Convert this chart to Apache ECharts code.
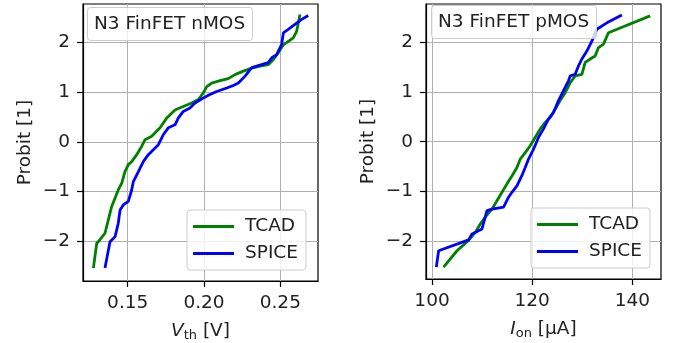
<!DOCTYPE html>
<html>
<head>
<meta charset="utf-8">
<script src="https://cdn.jsdelivr.net/npm/echarts@6/dist/echarts.min.js"></script>
<style>
  html, body { margin: 0; padding: 0; background: #fff; }
  #chart { width: 680px; height: 343px; }
</style>
</head>
<body>
<div id="chart"></div>
<script>
// nMOS: threshold voltage [V] vs probit
const nTcadVth = [0.1275, 0.1297, 0.1318, 0.1351, 0.1373, 0.1395, 0.1417, 0.1438, 0.1461, 0.1482, 0.1504, 0.1526, 0.1559, 0.1592, 0.1613, 0.1657, 0.1712, 0.1756, 0.1810, 0.1864, 0.1919, 0.1963, 0.1995, 0.2018, 0.2050, 0.2105, 0.2159, 0.2203, 0.2258, 0.2313, 0.2367, 0.2421, 0.2454, 0.2487, 0.2520, 0.2585, 0.2607, 0.2618, 0.2629]
const nTcadProbit = [-2.54, -2.04, -1.97, -1.84, -1.57, -1.30, -1.13, -0.97, -0.83, -0.60, -0.46, -0.40, -0.26, -0.09, 0.04, 0.11, 0.28, 0.48, 0.64, 0.71, 0.78, 0.85, 0.98, 1.11, 1.18, 1.23, 1.27, 1.35, 1.42, 1.48, 1.52, 1.55, 1.65, 1.79, 1.95, 2.09, 2.22, 2.39, 2.56]
const nSpiceVth = [0.1351, 0.1384, 0.1417, 0.1438, 0.1450, 0.1471, 0.1504, 0.1526, 0.1537, 0.1570, 0.1602, 0.1635, 0.1668, 0.1701, 0.1733, 0.1766, 0.1810, 0.1832, 0.1864, 0.1908, 0.1941, 0.1995, 0.2039, 0.2083, 0.2149, 0.2192, 0.2225, 0.2269, 0.2313, 0.2367, 0.2421, 0.2444, 0.2476, 0.2509, 0.2520, 0.2552, 0.2596, 0.2640, 0.2683]
const nSpiceProbit = [-2.54, -2.01, -1.91, -1.64, -1.37, -1.27, -1.20, -0.97, -0.80, -0.60, -0.40, -0.26, -0.16, -0.06, 0.14, 0.28, 0.34, 0.48, 0.61, 0.68, 0.78, 0.88, 0.95, 1.01, 1.08, 1.13, 1.18, 1.32, 1.49, 1.54, 1.59, 1.69, 1.75, 1.96, 2.19, 2.26, 2.36, 2.46, 2.54]

// pMOS: on-current [uA] vs probit
const pTcadIon = [102.31, 104.99, 107.30, 108.63, 109.63, 110.63, 111.96, 112.96, 113.96, 114.96, 115.95, 116.95, 117.61, 118.60, 119.60, 120.60, 121.60, 122.59, 123.59, 124.59, 125.58, 126.58, 127.58, 128.57, 129.91, 130.57, 131.57, 132.56, 133.22, 134.22, 135.21, 143.53]
const pTcadProbit = [-2.53, -2.20, -1.99, -1.83, -1.66, -1.52, -1.36, -1.19, -1.02, -0.85, -0.69, -0.52, -0.35, -0.22, -0.08, 0.09, 0.26, 0.39, 0.49, 0.66, 0.83, 0.99, 1.19, 1.33, 1.36, 1.60, 1.67, 1.73, 1.90, 1.97, 2.20, 2.54]
const pSpiceIon = [100.86, 101.32, 107.30, 107.98, 109.97, 110.97, 111.96, 114.28, 115.27, 115.95, 116.95, 117.95, 118.60, 119.26, 120.26, 121.26, 122.25, 123.25, 124.25, 125.24, 126.24, 127.24, 127.58, 128.57, 129.23, 129.91, 130.91, 131.90, 132.90, 134.90, 137.89]
const pSpiceProbit = [-2.53, -2.20, -1.98, -1.86, -1.76, -1.39, -1.36, -1.32, -1.12, -1.02, -0.89, -0.68, -0.52, -0.35, -0.15, 0.09, 0.26, 0.46, 0.59, 0.83, 1.03, 1.23, 1.33, 1.36, 1.53, 1.67, 1.83, 2.03, 2.27, 2.40, 2.56]

const nVthTicks = [0.15, 0.20, 0.25]
const pIonTicks = [100, 120, 140]
const probitTicks = [-2, -1, 0, 1, 2]

const FONT = 'DejaVu Sans'
const FS = 18.5
const GREEN = '#008000'
const BLUE = '#0000ff'

const pairs = (xs, ys) => xs.map((x, i) => [x, ys[i]])
const minus = (v) => (v < 0 ? '\u2212' + String(-v) : String(v))

function valueAxis(grid, min, max, ticks, fmt, margin, extra) {
  return Object.assign({
    type: 'value',
    gridIndex: grid,
    min, max,
    axisLine: { show: true, onZero: false, lineStyle: { color: '#000', width: 1.2 } },
    axisTick: { show: true, length: 6, customValues: ticks, lineStyle: { color: '#000', width: 1.2 } },
    axisLabel: { customValues: ticks, formatter: fmt, margin, color: '#222', fontFamily: FONT, fontSize: FS },
    splitLine: { show: true, lineStyle: { color: '#b0b0b0', width: 1 } },
  }, extra)
}

function line(name, color, xi, data) {
  return {
    name, type: 'line', xAxisIndex: xi, yAxisIndex: xi, data,
    showSymbol: false, symbol: 'none', animation: false,
    lineStyle: { color, width: 2.8 }, itemStyle: { color },
  }
}

function legendAt(left, top) {
  return {
    data: ['TCAD', 'SPICE'], orient: 'vertical', left, top,
    icon: 'rect', itemWidth: 41, itemHeight: 3, itemGap: 8,
    padding: [7, 8, 7, 6],
    backgroundColor: 'rgba(255,255,255,0.8)', borderColor: '#ccc', borderWidth: 1, borderRadius: 3,
    textStyle: { fontFamily: FONT, fontSize: FS, color: '#222', lineHeight: 19, padding: [0, 0, 0, 6] },
    selectedMode: false,
  }
}

function titleAt(text, left, top) {
  return {
    text, left, top, padding: [6, 8, 6, 7],
    backgroundColor: 'rgba(255,255,255,0.8)', borderColor: '#ccc', borderWidth: 1, borderRadius: 3,
    textStyle: { fontFamily: FONT, fontSize: FS, fontWeight: 'normal', color: '#222', lineHeight: 22 },
  }
}

const nameRich = {
  i: { fontFamily: FONT, fontSize: FS, fontStyle: 'italic', color: '#222' },
  s: { fontFamily: FONT, fontSize: 13, color: '#222', padding: [9, 0, 0, 0] },
  t: { fontFamily: FONT, fontSize: FS, color: '#222' },
}
const yName = { fontFamily: FONT, fontSize: FS, color: '#222' }

const chart = echarts.init(document.getElementById('chart'), null, { renderer: 'canvas' })
chart.setOption({
  animation: false,
  backgroundColor: '#fff',
  title: [titleAt('N3 FinFET nMOS', 87, 7), titleAt('N3 FinFET pMOS', 431, 5)],
  legend: [legendAt(187, 210), legendAt(531, 208)],
  grid: [
    { left: 83, width: 235, top: 4, height: 277, show: true, borderColor: '#000', borderWidth: 1.2, outerBoundsMode: 'none', containLabel: false },
    { left: 426, width: 235, top: 4, height: 275, show: true, borderColor: '#000', borderWidth: 1.2, outerBoundsMode: 'none', containLabel: false },
  ],
  xAxis: [
    valueAxis(0, 0.1207, 0.2747, nVthTicks, (v) => v.toFixed(2), 13, {
      name: '{i|V}{s|th}{t| [V]}', nameLocation: 'middle', nameGap: 39,
      nameTextStyle: { rich: nameRich },
    }),
    valueAxis(1, 98.8, 145.7, pIonTicks, (v) => String(v), 13, {
      name: '{i|I}{s|on}{t| [\u03bcA]}', nameLocation: 'middle', nameGap: 39,
      nameTextStyle: { rich: nameRich },
    }),
  ],
  yAxis: [
    valueAxis(0, -2.8, 2.77, probitTicks, minus, 13, {
      name: 'Probit [1]', nameLocation: 'middle', nameGap: 48, nameTextStyle: yName,
    }),
    valueAxis(1, -2.77, 2.78, probitTicks, minus, 13, {
      name: 'Probit [1]', nameLocation: 'middle', nameGap: 48, nameTextStyle: yName,
    }),
  ],
  series: [
    line('TCAD', GREEN, 0, pairs(nTcadVth, nTcadProbit)),
    line('SPICE', BLUE, 0, pairs(nSpiceVth, nSpiceProbit)),
    line('TCAD', GREEN, 1, pairs(pTcadIon, pTcadProbit)),
    line('SPICE', BLUE, 1, pairs(pSpiceIon, pSpiceProbit)),
  ],
})
</script>
</body>
</html>
